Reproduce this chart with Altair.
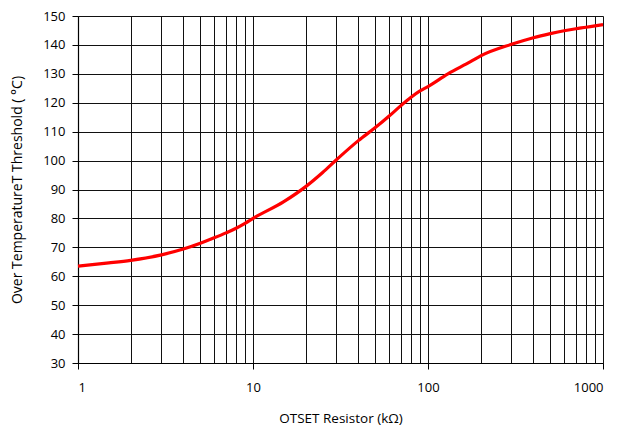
import altair as alt
import pandas as pd

resistance_kohm = [1, 1.5, 2, 3, 4, 5, 6, 7, 8, 9, 10, 15, 20, 25, 30, 40, 50, 60, 70, 80, 90,
                   100, 130, 175, 200, 300, 400, 500, 600, 700, 800, 900, 1000]
threshold_c = [63.5, 64.6, 65.5, 67.4, 69.4, 71.4, 73.3, 75.0, 76.6, 78.3, 80.0, 85.8, 91.0, 95.9,
               100.3, 106.9, 111.4, 115.4, 119.0, 121.9, 124.1, 125.6, 130.0, 134.2, 136.2, 140.2,
               142.5, 143.9, 144.9, 145.6, 146.1, 146.6, 147.0]
x_grid_values = [m * d for d in [1, 10, 100] for m in range(1, 10)] + [1000]
y_tick_values = list(range(30, 151, 10))

df = pd.DataFrame({"r": resistance_kohm, "t": threshold_c})

decade_test = "indexof([1, 10, 100, 1000], datum.value) >= 0"

chart = alt.Chart(df).mark_line(color="#ff0000", strokeWidth=3.2, interpolate="monotone").encode(
    x=alt.X("r:Q",
            scale=alt.Scale(type="log", domain=[1, 1000], nice=False),
            axis=alt.Axis(values=x_grid_values, grid=True, gridColor="#111", gridWidth=1,
                          gridOpacity=1,
                          labelExpr="indexof([1, 10, 100, 1000], datum.value) >= 0 ? datum.label : ''",
                          tickColor={"condition": {"test": decade_test, "value": "#000"},
                                     "value": "transparent"},
                          tickSize=6, labelPadding=12, labelFontSize=13, labelColor="#000",
                          labelFont="Open Sans", domainColor="#000", domainWidth=1.2,
                          title="OTSET Resistor (kΩ)", titleFont="Open Sans", titleFontSize=13.5,
                          titleFontWeight="normal", titleColor="#000", titlePadding=17,
                          format="d")),
    y=alt.Y("t:Q",
            scale=alt.Scale(domain=[30, 150], nice=False, zero=False),
            axis=alt.Axis(values=y_tick_values, grid=True, gridColor="#111", gridWidth=1,
                          gridOpacity=1, tickSize=6, tickColor="#000", labelPadding=7,
                          labelFontSize=13, labelColor="#000", labelFont="Open Sans",
                          domainColor="#000", domainWidth=1.2,
                          title="Over TemperatureT Threshold (  °C)", titleFont="Open Sans",
                          titleFontSize=14, titleFontWeight="normal", titleColor="#000",
                          titlePadding=18)),
).properties(
    width=525, height=347,
    autosize=alt.AutoSizeParams(type="none"),
    padding={"left": 70, "top": 8, "right": 7, "bottom": 66},
).configure_view(stroke=None)

chart.save("out.html", embed_options={"renderer": "svg", "actions": False})
